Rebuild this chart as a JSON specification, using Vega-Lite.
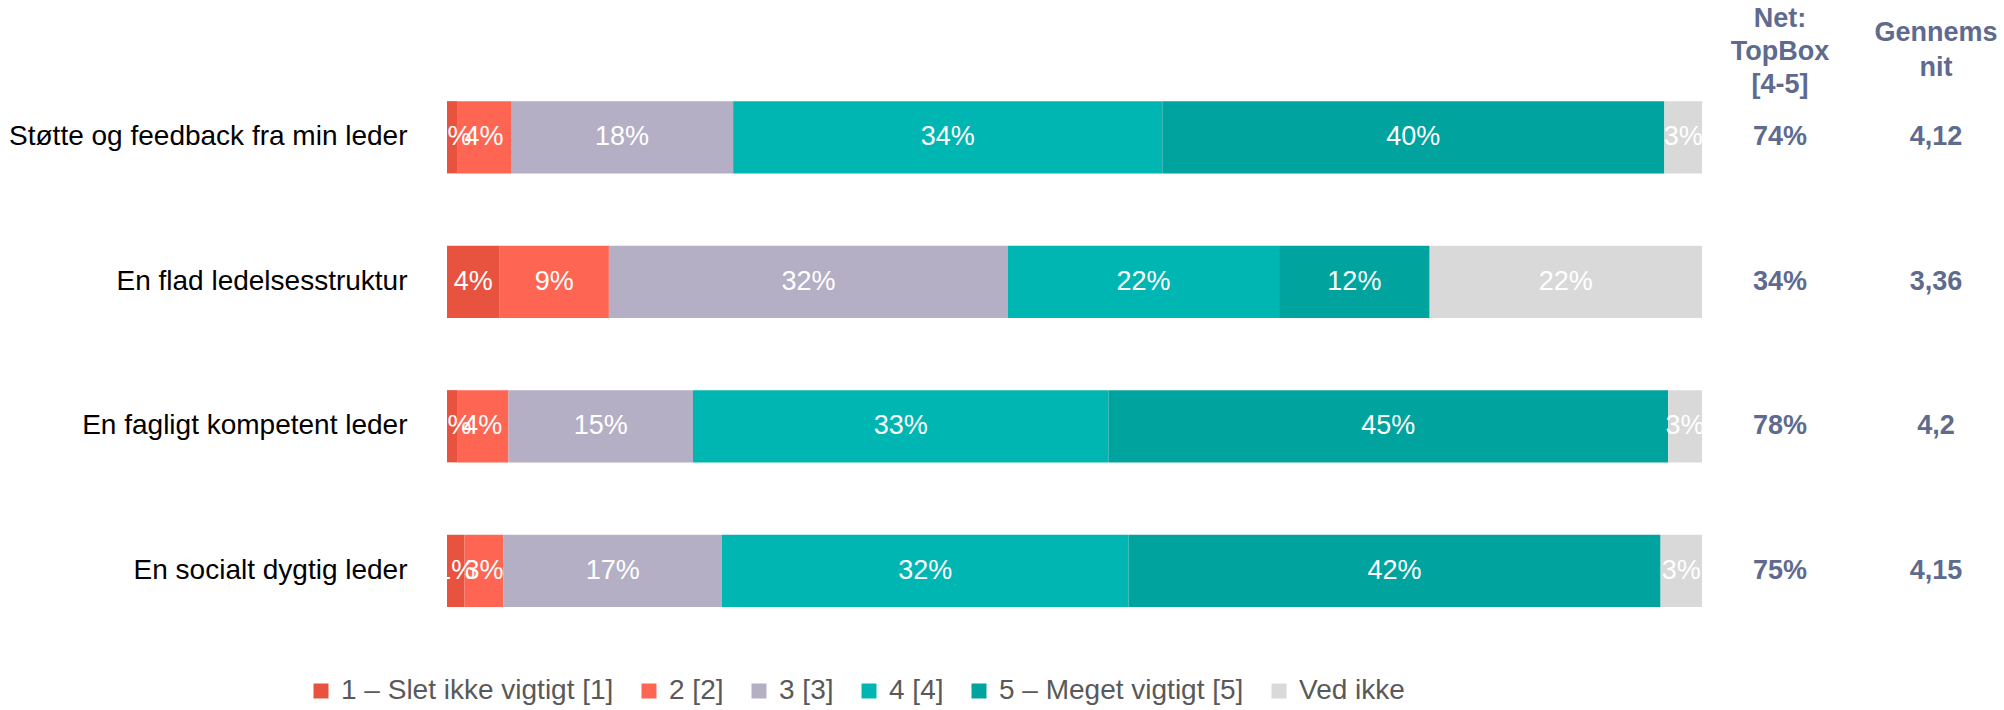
{
  "$schema": "https://vega.github.io/schema/vega-lite/v6.json",
  "background": "white",
  "padding": {"left": 8, "top": 5, "right": 0, "bottom": 0},
  "bounds": "flush",
  "spacing": 10,
  "config": {"view": {"stroke": null}, "font": "Liberation Sans"},
  "datasets": {
    "segs": [
      {"item": "Støtte og feedback fra min leder", "cat": "1 – Slet ikke vigtigt [1]", "k": 1, "pct": 0.008},
      {"item": "Støtte og feedback fra min leder", "cat": "2 [2]", "k": 2, "pct": 0.043},
      {"item": "Støtte og feedback fra min leder", "cat": "3 [3]", "k": 3, "pct": 0.177},
      {"item": "Støtte og feedback fra min leder", "cat": "4 [4]", "k": 4, "pct": 0.342},
      {"item": "Støtte og feedback fra min leder", "cat": "5 – Meget vigtigt [5]", "k": 5, "pct": 0.400},
      {"item": "Støtte og feedback fra min leder", "cat": "Ved ikke", "k": 6, "pct": 0.030},
      {"item": "En flad ledelsesstruktur", "cat": "1 – Slet ikke vigtigt [1]", "k": 1, "pct": 0.042},
      {"item": "En flad ledelsesstruktur", "cat": "2 [2]", "k": 2, "pct": 0.087},
      {"item": "En flad ledelsesstruktur", "cat": "3 [3]", "k": 3, "pct": 0.318},
      {"item": "En flad ledelsesstruktur", "cat": "4 [4]", "k": 4, "pct": 0.216},
      {"item": "En flad ledelsesstruktur", "cat": "5 – Meget vigtigt [5]", "k": 5, "pct": 0.120},
      {"item": "En flad ledelsesstruktur", "cat": "Ved ikke", "k": 6, "pct": 0.217},
      {"item": "En fagligt kompetent leder", "cat": "1 – Slet ikke vigtigt [1]", "k": 1, "pct": 0.008},
      {"item": "En fagligt kompetent leder", "cat": "2 [2]", "k": 2, "pct": 0.041},
      {"item": "En fagligt kompetent leder", "cat": "3 [3]", "k": 3, "pct": 0.147},
      {"item": "En fagligt kompetent leder", "cat": "4 [4]", "k": 4, "pct": 0.331},
      {"item": "En fagligt kompetent leder", "cat": "5 – Meget vigtigt [5]", "k": 5, "pct": 0.446},
      {"item": "En fagligt kompetent leder", "cat": "Ved ikke", "k": 6, "pct": 0.027},
      {"item": "En socialt dygtig leder", "cat": "1 – Slet ikke vigtigt [1]", "k": 1, "pct": 0.014},
      {"item": "En socialt dygtig leder", "cat": "2 [2]", "k": 2, "pct": 0.031},
      {"item": "En socialt dygtig leder", "cat": "3 [3]", "k": 3, "pct": 0.174},
      {"item": "En socialt dygtig leder", "cat": "4 [4]", "k": 4, "pct": 0.324},
      {"item": "En socialt dygtig leder", "cat": "5 – Meget vigtigt [5]", "k": 5, "pct": 0.424},
      {"item": "En socialt dygtig leder", "cat": "Ved ikke", "k": 6, "pct": 0.033}
    ],
    "summary": [
      {"item": "Støtte og feedback fra min leder", "topbox": "74%", "mean": "4,12"},
      {"item": "En flad ledelsesstruktur", "topbox": "34%", "mean": "3,36"},
      {"item": "En fagligt kompetent leder", "topbox": "78%", "mean": "4,2"},
      {"item": "En socialt dygtig leder", "topbox": "75%", "mean": "4,15"}
    ]
  },
  "hconcat": [
    {
      "width": 1255,
      "height": 578,
      "data": {"name": "segs"},
      "encoding": {
        "y": {
          "field": "item", "type": "nominal",
          "sort": ["Støtte og feedback fra min leder", "En flad ledelsesstruktur", "En fagligt kompetent leder", "En socialt dygtig leder"],
          "scale": {"type": "band", "paddingInner": 0.5, "paddingOuter": 0.25},
          "axis": {"title": null, "ticks": false, "domain": false, "grid": false, "labelFontSize": 28, "labelColor": "#000000", "labelFont": "Liberation Sans", "labelPadding": 40, "labelLimit": 700}
        }
      },
      "layer": [
        {
          "mark": {"type": "bar"},
          "encoding": {
            "x": {"field": "pct", "type": "quantitative", "stack": "zero", "scale": {"domain": [0, 1], "nice": false}, "axis": null},
            "color": {
              "field": "cat", "type": "nominal",
              "scale": {
                "domain": ["1 – Slet ikke vigtigt [1]", "2 [2]", "3 [3]", "4 [4]", "5 – Meget vigtigt [5]", "Ved ikke"],
                "range": ["#E8533F", "#FF6553", "#B4AFC4", "#00B6B2", "#00A39E", "#D9D9D9"]
              },
              "legend": {
                "orient": "none", "direction": "horizontal", "legendX": -140, "legendY": 612,
                "title": null, "symbolType": "square", "symbolSize": 225, "symbolStrokeWidth": 0,
                "labelFontSize": 28, "labelFont": "Liberation Sans", "labelColor": "#595959",
                "labelOffset": 6, "columnPadding": 21, "padding": 0, "labelLimit": 500
              }
            },
            "order": {"field": "k"}
          }
        },
        {
          "mark": {"type": "text", "color": "white", "fontSize": 27, "font": "Liberation Sans", "baseline": "middle", "align": "center"},
          "encoding": {
            "x": {"field": "pct", "type": "quantitative", "stack": "zero", "bandPosition": 0.5},
            "detail": {"field": "cat"},
            "order": {"field": "k"},
            "text": {"field": "pct", "type": "quantitative", "format": ".0%"}
          }
        }
      ]
    },
    {
      "width": 136,
      "height": 578,
      "data": {"name": "summary"},
      "title": {"text": ["Net:", "TopBox", "[4-5]"], "fontSize": 27, "fontWeight": "bold", "color": "#5E6A8E", "font": "Liberation Sans", "lineHeight": 33, "baseline": "middle", "offset": -47, "anchor": "middle"},
      "mark": {"type": "text", "fontSize": 27, "fontWeight": "bold", "color": "#5E6A8E", "font": "Liberation Sans", "baseline": "middle", "align": "center"},
      "encoding": {
        "y": {
          "field": "item", "type": "nominal",
          "sort": ["Støtte og feedback fra min leder", "En flad ledelsesstruktur", "En fagligt kompetent leder", "En socialt dygtig leder"],
          "scale": {"type": "band", "paddingInner": 0.5, "paddingOuter": 0.25},
          "axis": null
        },
        "text": {"field": "topbox"}
      }
    },
    {
      "width": 136,
      "height": 578,
      "data": {"name": "summary"},
      "title": {"text": ["Gennems", "nit"], "fontSize": 27, "fontWeight": "bold", "color": "#5E6A8E", "font": "Liberation Sans", "lineHeight": 35, "baseline": "middle", "offset": -30, "anchor": "middle", "dx": 10},
      "mark": {"type": "text", "fontSize": 27, "fontWeight": "bold", "color": "#5E6A8E", "font": "Liberation Sans", "baseline": "middle", "align": "center", "dx": 10},
      "encoding": {
        "y": {
          "field": "item", "type": "nominal",
          "sort": ["Støtte og feedback fra min leder", "En flad ledelsesstruktur", "En fagligt kompetent leder", "En socialt dygtig leder"],
          "scale": {"type": "band", "paddingInner": 0.5, "paddingOuter": 0.25},
          "axis": null
        },
        "text": {"field": "mean"}
      }
    }
  ]
}
